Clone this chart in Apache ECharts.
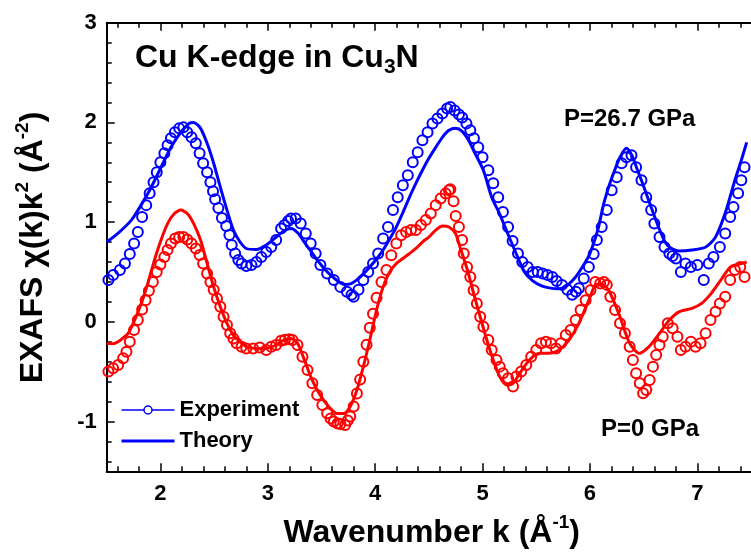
<!DOCTYPE html>
<html>
<head>
<meta charset="utf-8">
<title>Cu K-edge EXAFS in Cu3N</title>
<script src="https://cdn.jsdelivr.net/npm/echarts@6/dist/echarts.min.js"></script>
<style>
  html, body { margin: 0; padding: 0; background: #fff; }
  #chart { width: 751px; height: 552px; }
</style>
</head>
<body>
<div id="chart"></div>
<script>
// P = 26.7 GPa, experiment (open circles)
const kExpHigh = [1.516, 1.56, 1.623, 1.67, 1.715, 1.755, 1.79, 1.83, 1.868, 1.90, 1.936, 1.966, 2.00, 2.037, 2.067, 2.098, 2.135, 2.175, 2.214, 2.25, 2.29, 2.33, 2.365, 2.398, 2.435, 2.466, 2.49, 2.51, 2.54, 2.573, 2.613, 2.643, 2.664, 2.696, 2.726, 2.756, 2.80, 2.848, 2.894, 2.94, 2.986, 3.032, 3.078, 3.124, 3.155, 3.19, 3.216, 3.26, 3.307, 3.354, 3.40, 3.446, 3.49, 3.553, 3.615, 3.676, 3.737, 3.78, 3.80, 3.845, 3.89, 3.936, 3.98, 4.028, 4.074, 4.12, 4.166, 4.21, 4.258, 4.304, 4.35, 4.396, 4.44, 4.488, 4.534, 4.58, 4.626, 4.67, 4.70, 4.74, 4.78, 4.81, 4.85, 4.886, 4.92, 4.96, 5.00, 5.054, 5.10, 5.146, 5.19, 5.238, 5.28, 5.33, 5.37, 5.42, 5.468, 5.514, 5.56, 5.605, 5.65, 5.69, 5.74, 5.79, 5.835, 5.87, 5.897, 5.943, 5.99, 6.035, 6.065, 6.11, 6.157, 6.203, 6.25, 6.295, 6.34, 6.387, 6.43, 6.48, 6.525, 6.57, 6.60, 6.648, 6.694, 6.74, 6.77, 6.80, 6.847, 6.89, 6.94, 7.00, 7.06, 7.107, 7.15, 7.21, 7.26, 7.306, 7.337, 7.38, 7.41, 7.44];
const chiExpHigh = [0.42, 0.47, 0.52, 0.585, 0.68, 0.785, 0.90, 1.05, 1.17, 1.29, 1.40, 1.50, 1.60, 1.69, 1.77, 1.84, 1.90, 1.94, 1.95, 1.90, 1.85, 1.79, 1.69, 1.59, 1.50, 1.40, 1.31, 1.23, 1.14, 1.04, 0.96, 0.87, 0.77, 0.685, 0.62, 0.585, 0.56, 0.57, 0.60, 0.65, 0.70, 0.75, 0.82, 0.935, 0.97, 1.01, 1.035, 1.035, 0.985, 0.885, 0.785, 0.685, 0.57, 0.485, 0.42, 0.35, 0.30, 0.27, 0.25, 0.32, 0.42, 0.50, 0.585, 0.685, 0.835, 0.95, 1.12, 1.25, 1.37, 1.47, 1.60, 1.70, 1.82, 1.90, 1.99, 2.04, 2.09, 2.14, 2.155, 2.12, 2.08, 2.05, 1.99, 1.92, 1.84, 1.75, 1.65, 1.52, 1.39, 1.25, 1.10, 0.95, 0.81, 0.685, 0.60, 0.55, 0.50, 0.50, 0.485, 0.47, 0.45, 0.41, 0.37, 0.32, 0.27, 0.30, 0.335, 0.435, 0.55, 0.68, 0.82, 0.95, 1.12, 1.32, 1.45, 1.59, 1.65, 1.67, 1.55, 1.42, 1.25, 1.12, 0.985, 0.85, 0.75, 0.685, 0.66, 0.635, 0.50, 0.585, 0.55, 0.57, 0.42, 0.585, 0.65, 0.75, 0.885, 1.05, 1.15, 1.29, 1.42, 1.55];

// P = 26.7 GPa, theory (solid line)
const kTheoHigh = [1.50, 1.607, 1.73, 1.82, 1.915, 2.006, 2.098, 2.19, 2.267, 2.31, 2.374, 2.435, 2.496, 2.558, 2.62, 2.68, 2.742, 2.80, 2.894, 2.986, 3.078, 3.15, 3.216, 3.28, 3.34, 3.40, 3.46, 3.52, 3.584, 3.65, 3.707, 3.77, 3.83, 3.89, 3.95, 4.013, 4.074, 4.135, 4.197, 4.26, 4.32, 4.38, 4.44, 4.50, 4.564, 4.626, 4.687, 4.75, 4.81, 4.87, 4.93, 5.008, 5.085, 5.16, 5.24, 5.315, 5.39, 5.468, 5.55, 5.62, 5.70, 5.78, 5.867, 5.93, 5.99, 6.035, 6.08, 6.13, 6.18, 6.22, 6.28, 6.34, 6.39, 6.44, 6.49, 6.57, 6.65, 6.70, 6.74, 6.83, 6.95, 7.08, 7.17, 7.26, 7.35, 7.41, 7.46];
const chiTheoHigh = [0.80, 0.89, 1.02, 1.17, 1.35, 1.55, 1.75, 1.90, 1.99, 2.00, 1.94, 1.79, 1.59, 1.35, 1.12, 0.92, 0.80, 0.735, 0.725, 0.77, 0.85, 0.91, 0.935, 0.89, 0.80, 0.71, 0.62, 0.54, 0.47, 0.41, 0.375, 0.38, 0.42, 0.48, 0.55, 0.63, 0.72, 0.83, 0.95, 1.10, 1.25, 1.39, 1.52, 1.64, 1.75, 1.85, 1.92, 1.94, 1.91, 1.82, 1.69, 1.52, 1.25, 1.08, 0.87, 0.68, 0.50, 0.41, 0.36, 0.34, 0.33, 0.36, 0.45, 0.55, 0.66, 0.79, 0.95, 1.19, 1.37, 1.49, 1.65, 1.74, 1.67, 1.53, 1.39, 1.15, 0.92, 0.80, 0.75, 0.71, 0.72, 0.75, 0.85, 1.09, 1.42, 1.62, 1.80];

// P = 0 GPa, experiment (open circles)
const kExpLow = [1.516, 1.56, 1.607, 1.653, 1.684, 1.715, 1.755, 1.79, 1.83, 1.862, 1.893, 1.93, 1.966, 2.00, 2.037, 2.067, 2.098, 2.138, 2.175, 2.214, 2.25, 2.29, 2.33, 2.365, 2.398, 2.435, 2.466, 2.496, 2.527, 2.558, 2.588, 2.62, 2.65, 2.68, 2.71, 2.756, 2.80, 2.864, 2.925, 2.986, 3.032, 3.078, 3.124, 3.16, 3.20, 3.23, 3.277, 3.323, 3.37, 3.415, 3.46, 3.508, 3.553, 3.585, 3.615, 3.65, 3.676, 3.72, 3.745, 3.768, 3.80, 3.83, 3.86, 3.89, 3.92, 3.95, 3.98, 4.013, 4.059, 4.105, 4.15, 4.197, 4.242, 4.288, 4.334, 4.38, 4.426, 4.472, 4.518, 4.564, 4.61, 4.656, 4.687, 4.70, 4.73, 4.75, 4.78, 4.81, 4.825, 4.856, 4.886, 4.917, 4.947, 4.978, 5.008, 5.054, 5.085, 5.13, 5.16, 5.19, 5.238, 5.284, 5.315, 5.36, 5.407, 5.453, 5.50, 5.545, 5.59, 5.637, 5.683, 5.73, 5.775, 5.82, 5.867, 5.913, 5.96, 6.005, 6.05, 6.096, 6.13, 6.157, 6.19, 6.234, 6.28, 6.326, 6.37, 6.40, 6.43, 6.464, 6.495, 6.525, 6.556, 6.587, 6.617, 6.648, 6.678, 6.725, 6.77, 6.815, 6.846, 6.89, 6.94, 6.984, 7.03, 7.077, 7.123, 7.17, 7.21, 7.26, 7.306, 7.35, 7.40, 7.44];
const chiExpLow = [-0.50, -0.467, -0.434, -0.367, -0.30, -0.20, -0.083, 0.017, 0.124, 0.217, 0.31, 0.40, 0.50, 0.575, 0.65, 0.72, 0.785, 0.835, 0.85, 0.85, 0.825, 0.785, 0.735, 0.67, 0.585, 0.485, 0.40, 0.32, 0.234, 0.15, 0.05, -0.033, -0.116, -0.167, -0.216, -0.25, -0.267, -0.267, -0.257, -0.284, -0.25, -0.233, -0.19, -0.18, -0.176, -0.183, -0.233, -0.35, -0.484, -0.617, -0.735, -0.835, -0.918, -0.97, -1.00, -1.02, -1.025, -1.035, -0.99, -0.95, -0.85, -0.72, -0.58, -0.40, -0.23, -0.06, 0.08, 0.24, 0.40, 0.52, 0.668, 0.785, 0.868, 0.90, 0.92, 0.92, 0.97, 1.02, 1.086, 1.17, 1.236, 1.287, 1.32, 1.33, 1.21, 1.06, 0.95, 0.82, 0.685, 0.55, 0.45, 0.317, 0.184, 0.05, -0.05, -0.183, -0.284, -0.384, -0.45, -0.517, -0.567, -0.65, -0.55, -0.50, -0.434, -0.35, -0.284, -0.216, -0.20, -0.216, -0.267, -0.216, -0.133, -0.083, 0.017, 0.117, 0.217, 0.317, 0.40, 0.385, 0.40, 0.37, 0.25, 0.117, -0.016, -0.116, -0.25, -0.384, -0.517, -0.617, -0.717, -0.684, -0.584, -0.45, -0.334, -0.233, -0.15, -0.016, -0.066, -0.15, -0.284, -0.25, -0.20, -0.25, -0.216, -0.116, 0.017, 0.10, 0.184, 0.25, 0.42, 0.52, 0.55, 0.45];

// P = 0 GPa, theory (solid line)
const kTheoLow = [1.50, 1.56, 1.607, 1.65, 1.70, 1.76, 1.823, 1.883, 1.945, 2.006, 2.067, 2.13, 2.19, 2.25, 2.31, 2.374, 2.435, 2.496, 2.558, 2.62, 2.68, 2.742, 2.80, 2.894, 2.986, 3.078, 3.14, 3.216, 3.277, 3.34, 3.40, 3.46, 3.52, 3.584, 3.645, 3.707, 3.768, 3.83, 3.89, 3.95, 4.013, 4.074, 4.135, 4.197, 4.258, 4.32, 4.38, 4.44, 4.50, 4.564, 4.626, 4.687, 4.748, 4.79, 4.856, 4.917, 4.978, 5.04, 5.10, 5.16, 5.223, 5.284, 5.346, 5.437, 5.53, 5.62, 5.713, 5.805, 5.897, 5.99, 6.05, 6.10, 6.15, 6.19, 6.28, 6.37, 6.46, 6.55, 6.648, 6.74, 6.83, 6.95, 7.04, 7.13, 7.22, 7.31, 7.41, 7.46];
const chiTheoLow = [-0.216, -0.22, -0.20, -0.165, -0.116, 0.017, 0.185, 0.385, 0.62, 0.82, 0.985, 1.086, 1.12, 1.086, 0.985, 0.82, 0.585, 0.35, 0.15, -0.016, -0.133, -0.20, -0.25, -0.267, -0.267, -0.233, -0.19, -0.167, -0.216, -0.38, -0.55, -0.685, -0.785, -0.87, -0.92, -0.92, -0.85, -0.685, -0.45, -0.183, 0.117, 0.35, 0.50, 0.585, 0.635, 0.685, 0.735, 0.80, 0.85, 0.92, 0.96, 0.95, 0.885, 0.75, 0.53, 0.285, 0.05, -0.183, -0.384, -0.55, -0.634, -0.617, -0.517, -0.384, -0.317, -0.317, -0.284, -0.183, -0.016, 0.217, 0.37, 0.38, 0.35, 0.285, 0.05, -0.216, -0.317, -0.25, -0.116, 0.017, 0.10, 0.134, 0.184, 0.285, 0.42, 0.55, 0.585, 0.60];

// ticks
const xMajorTicks = [2, 3, 4, 5, 6, 7];
const xMinorTicks = [1.6, 1.8, 2.2, 2.4, 2.6, 2.8, 3.2, 3.4, 3.6, 3.8, 4.2, 4.4, 4.6, 4.8, 5.2, 5.4, 5.6, 5.8, 6.2, 6.4, 6.6, 6.8, 7.2, 7.4];
const yMajorTicks = [-1, 0, 1, 2, 3];
const yMinorTicks = [-1.4, -1.2, -0.8, -0.6, -0.4, -0.2, 0.2, 0.4, 0.6, 0.8, 1.2, 1.4, 1.6, 1.8, 2.2, 2.4, 2.6, 2.8];

const BLUE = '#0000ff';
const RED = '#ff0000';
const FONT = '"Liberation Sans", Arial, sans-serif';

const pairs = (ks, vs) => ks.map((k, i) => [k, vs[i]]);

const chart = echarts.init(document.getElementById('chart'));

// одна и та же шкала для всех осей
const xBase = { type: 'value', min: 1.5, max: 7.5, splitLine: { show: false } };
const yBase = { type: 'value', min: -1.5, max: 3, splitLine: { show: false } };
const axisLine = { onZero: false, lineStyle: { color: '#000', width: 2 } };

function tickAxis(base, position, values, len, withLine) {
    return Object.assign({}, base, {
        position: position,
        axisLine: withLine ? axisLine : { show: false, onZero: false },
        axisTick: { customValues: values, inside: true, length: len, lineStyle: { color: '#000', width: 1.5 } },
        axisLabel: { show: false }
    });
}

const labelStyle = { fontFamily: FONT, fontWeight: 'bold', fontSize: 22, color: '#000' };

const expSeries = (name, ks, vs, color) => ({
    name: name,
    type: 'line',
    data: pairs(ks, vs),
    symbol: 'circle',
    symbolSize: 10,
    itemStyle: { color: 'transparent', borderColor: color, borderWidth: 2 },
    lineStyle: { opacity: 0 },
    z: 3
});

const theoSeries = (name, ks, vs, color) => ({
    name: name,
    type: 'line',
    data: pairs(ks, vs),
    symbol: 'none',
    smooth: 0.25,
    lineStyle: { color: color, width: 3 },
    itemStyle: { color: color },
    z: 2
});

const option = {
    animation: false,
    backgroundColor: '#fff',
    grid: { left: 106.7, right: -8.5, top: 22.7, bottom: 80.7 },
    xAxis: [
        Object.assign({}, xBase, {
            position: 'bottom',
            axisLine: axisLine,
            axisTick: { customValues: xMajorTicks, inside: true, length: 8, lineStyle: { color: '#000', width: 1.5 } },
            axisLabel: Object.assign({ customValues: xMajorTicks, margin: 12 }, labelStyle)
        }),
        tickAxis(xBase, 'bottom', xMinorTicks, 5, false),
        tickAxis(xBase, 'top', xMajorTicks, 8, true),
        tickAxis(xBase, 'top', xMinorTicks, 5, false)
    ],
    yAxis: [
        Object.assign({}, yBase, {
            position: 'left',
            axisLine: axisLine,
            axisTick: { customValues: yMajorTicks, inside: true, length: 8, lineStyle: { color: '#000', width: 1.5 } },
            axisLabel: Object.assign({ customValues: yMajorTicks, margin: 10 }, labelStyle)
        }),
        tickAxis(yBase, 'left', yMinorTicks, 5, false)
    ],
    legend: {
        orient: 'vertical',
        left: 115,
        top: 394,
        itemWidth: 53,
        itemHeight: 10,
        itemGap: 9,
        selectedMode: false,
        textStyle: { fontFamily: FONT, fontWeight: 'bold', fontSize: 22, color: '#000' },
        data: [
            {
                name: 'Experiment',
                itemStyle: { color: '#fff', borderColor: BLUE, borderWidth: 1.5 },
                lineStyle: { color: BLUE, width: 1.5, opacity: 1 }
            },
            {
                name: 'Theory',
                itemStyle: { opacity: 0 },
                lineStyle: { color: BLUE, width: 3, opacity: 1 }
            }
        ]
    },
    graphic: [
        {
            type: 'text', x: 135, y: 57.8, z: 10,
            style: {
                text: 'Cu K-edge in Cu{sub|3}N',
                font: 'bold 32px ' + FONT, fill: '#000',
                textAlign: 'left', textVerticalAlign: 'middle',
                rich: {
                    sub: { fontSize: 21, fontWeight: 'bold', fontFamily: FONT, verticalAlign: 'bottom', lineHeight: 12 }
                },
                lineHeight: 40
            }
        },
        {
            type: 'text', x: 564, y: 119.7, z: 10,
            style: { text: 'P=26.7 GPa', font: 'bold 24px ' + FONT, fill: '#000', textAlign: 'left', textVerticalAlign: 'middle' }
        },
        {
            type: 'text', x: 601, y: 429.7, z: 10,
            style: { text: 'P=0 GPa', font: 'bold 24px ' + FONT, fill: '#000', textAlign: 'left', textVerticalAlign: 'middle' }
        },
        {
            type: 'text', x: 431.7, y: 533.3, z: 10,
            style: {
                text: 'Wavenumber k (Å{sup|-1})',
                font: 'bold 32px ' + FONT, fill: '#000',
                textAlign: 'center', textVerticalAlign: 'middle',
                rich: {
                    sup: { fontSize: 19, fontWeight: 'bold', fontFamily: FONT, verticalAlign: 'top', lineHeight: 20 }
                },
                lineHeight: 40
            }
        },
        {
            type: 'text', x: 33, y: 247.5, rotation: Math.PI / 2, z: 10,
            style: {
                text: 'EXAFS χ(k)k{sup|2} (Å{sup|-2})',
                font: 'bold 32px ' + FONT, fill: '#000',
                textAlign: 'center', textVerticalAlign: 'middle',
                rich: {
                    sup: { fontSize: 19, fontWeight: 'bold', fontFamily: FONT, verticalAlign: 'top', lineHeight: 20 }
                },
                lineHeight: 40
            }
        }
    ],
    series: [
        theoSeries('Theory', kTheoHigh, chiTheoHigh, BLUE),
        theoSeries('Theory P=0 GPa', kTheoLow, chiTheoLow, RED),
        expSeries('Experiment', kExpHigh, chiExpHigh, BLUE),
        expSeries('Experiment P=0 GPa', kExpLow, chiExpLow, RED)
    ]
};

chart.setOption(option);
window.addEventListener('resize', () => chart.resize());
</script>
</body>
</html>
